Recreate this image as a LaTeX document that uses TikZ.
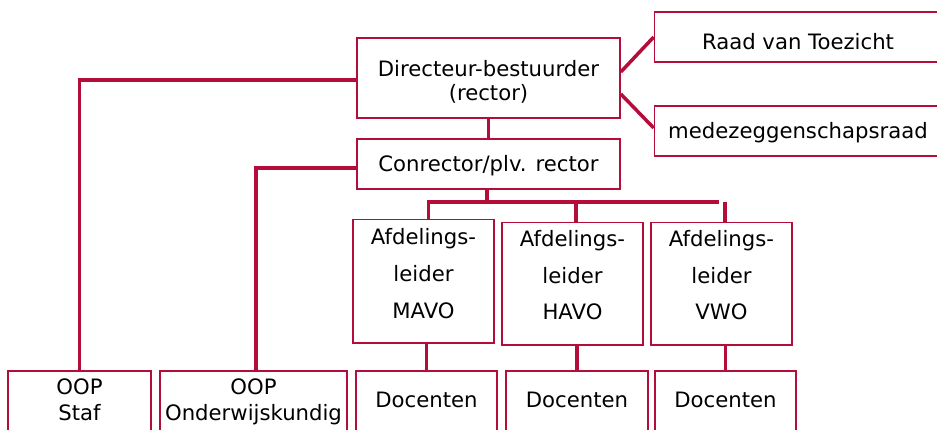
\documentclass[tikz,border=0pt]{standalone}
\usepackage{fontspec}
\setmainfont{DejaVu Sans}
\definecolor{crim}{RGB}{181,13,58}
\tikzset{
  box/.style={draw=crim, line width=1.6pt, inner sep=0pt, rectangle},
  conn/.style={draw=crim, line width=3.5pt},
  txt/.style={text=black, align=center, inner sep=0pt},
}
\newcommand{\fa}{\fontsize{21.2}{24}\selectfont}
\newcommand{\fb}{\fontsize{21.2}{36.7}\selectfont}
\newcommand{\fc}{\fontsize{21.2}{26}\selectfont}
\begin{document}
\begin{tikzpicture}[x=1pt,y=-1pt]
\useasboundingbox (0,0) rectangle (937,430);
% boxes
\node[box, minimum width=263pt, minimum height=80pt,
  label={[txt,name=dirT,font=\fa,yshift=-3.4pt]center:Directeur-bestuurder\\(rector)}] (dir) at (488.5,78) {};
\node[box, minimum width=295pt, minimum height=50pt,
  label={[txt,name=raadT,font=\fa,xshift=-4pt,yshift=-5pt]center:Raad van Toezicht}] (raad) at (802,37) {};
\node[box, minimum width=295pt, minimum height=50pt,
  label={[txt,name=medeT,font=\fa,xshift=-4pt,yshift=-1.2pt]center:medezeggenschapsraad}] (mede) at (802,131) {};
\node[box, minimum width=263pt, minimum height=50pt,
  label={[txt,name=conT,font=\fa,yshift=-1.8pt]center:Conrector/plv. rector}] (con) at (488.5,164) {};
\node[box, minimum width=141pt, minimum height=123.7pt,
  label={[txt,name=afd1T,font=\fb,yshift=7.6pt]center:Afdelings-\\leider\\MAVO}] (afd1) at (423.5,281.2) {};
\node[box, minimum width=141pt, minimum height=122.7pt,
  label={[txt,name=afd2T,font=\fb,yshift=8.4pt]center:Afdelings-\\leider\\HAVO}] (afd2) at (572.5,283.7) {};
\node[box, minimum width=141pt, minimum height=122.7pt,
  label={[txt,name=afd3T,font=\fb,yshift=8.4pt]center:Afdelings-\\leider\\VWO}] (afd3) at (721.5,283.7) {};
\node[box, minimum width=141pt, minimum height=74pt,
  label={[txt,name=doc1T,font=\fa,yshift=8pt]center:Docenten}] (doc1) at (426.5,408) {};
\node[box, minimum width=142pt, minimum height=74pt,
  label={[txt,name=doc2T,font=\fa,yshift=8pt]center:Docenten}] (doc2) at (577,408) {};
\node[box, minimum width=141pt, minimum height=74pt,
  label={[txt,name=doc3T,font=\fa,yshift=8pt]center:Docenten}] (doc3) at (725.5,408) {};
\node[box, minimum width=143pt, minimum height=74pt,
  label={[txt,name=stafT,font=\fc,yshift=8pt]center:OOP\\Staf}] (staf) at (79.5,408) {};
\node[box, minimum width=187pt, minimum height=74pt,
  label={[txt,name=ondT,font=\fc,yshift=5.8pt]center:OOP\\Onderwijskundig}] (ond) at (253.5,408) {};
% bus coordinates
\coordinate (bL) at (428.5,202);
\coordinate (bR) at (719.3,202);
\coordinate (b2) at (576,202);
\coordinate (b3) at (725,202);
% connectors
\draw[conn] (dir.south) -- (con.north);
\draw[conn] ([yshift=6pt]dir.east) -- (raad.west);
\draw[conn] ([yshift=-16pt]dir.east) -- ([yshift=3pt]mede.west);
\draw[conn] ([yshift=-2pt]dir.west) -| (staf.north);
\draw[conn] ([yshift=-4pt]con.west) -| ([xshift=2.5pt]ond.north);
\draw[conn] ([xshift=-1.5pt]con.south) -- ([xshift=-1.5pt]con.south |- bL);
\draw[conn] (bL |- afd1.north) -- (bL) -- (bR);
\draw[conn] (b2) -- (b2 |- afd2.north);
\draw[conn] (b3) -- (b3 |- afd3.north);
\draw[conn] (doc1.north |- afd1.south) -- (doc1.north);
\draw[conn] (doc2.north |- afd2.south) -- (doc2.north);
\draw[conn] (doc3.north |- afd3.south) -- (doc3.north);
\end{tikzpicture}
\end{document}
